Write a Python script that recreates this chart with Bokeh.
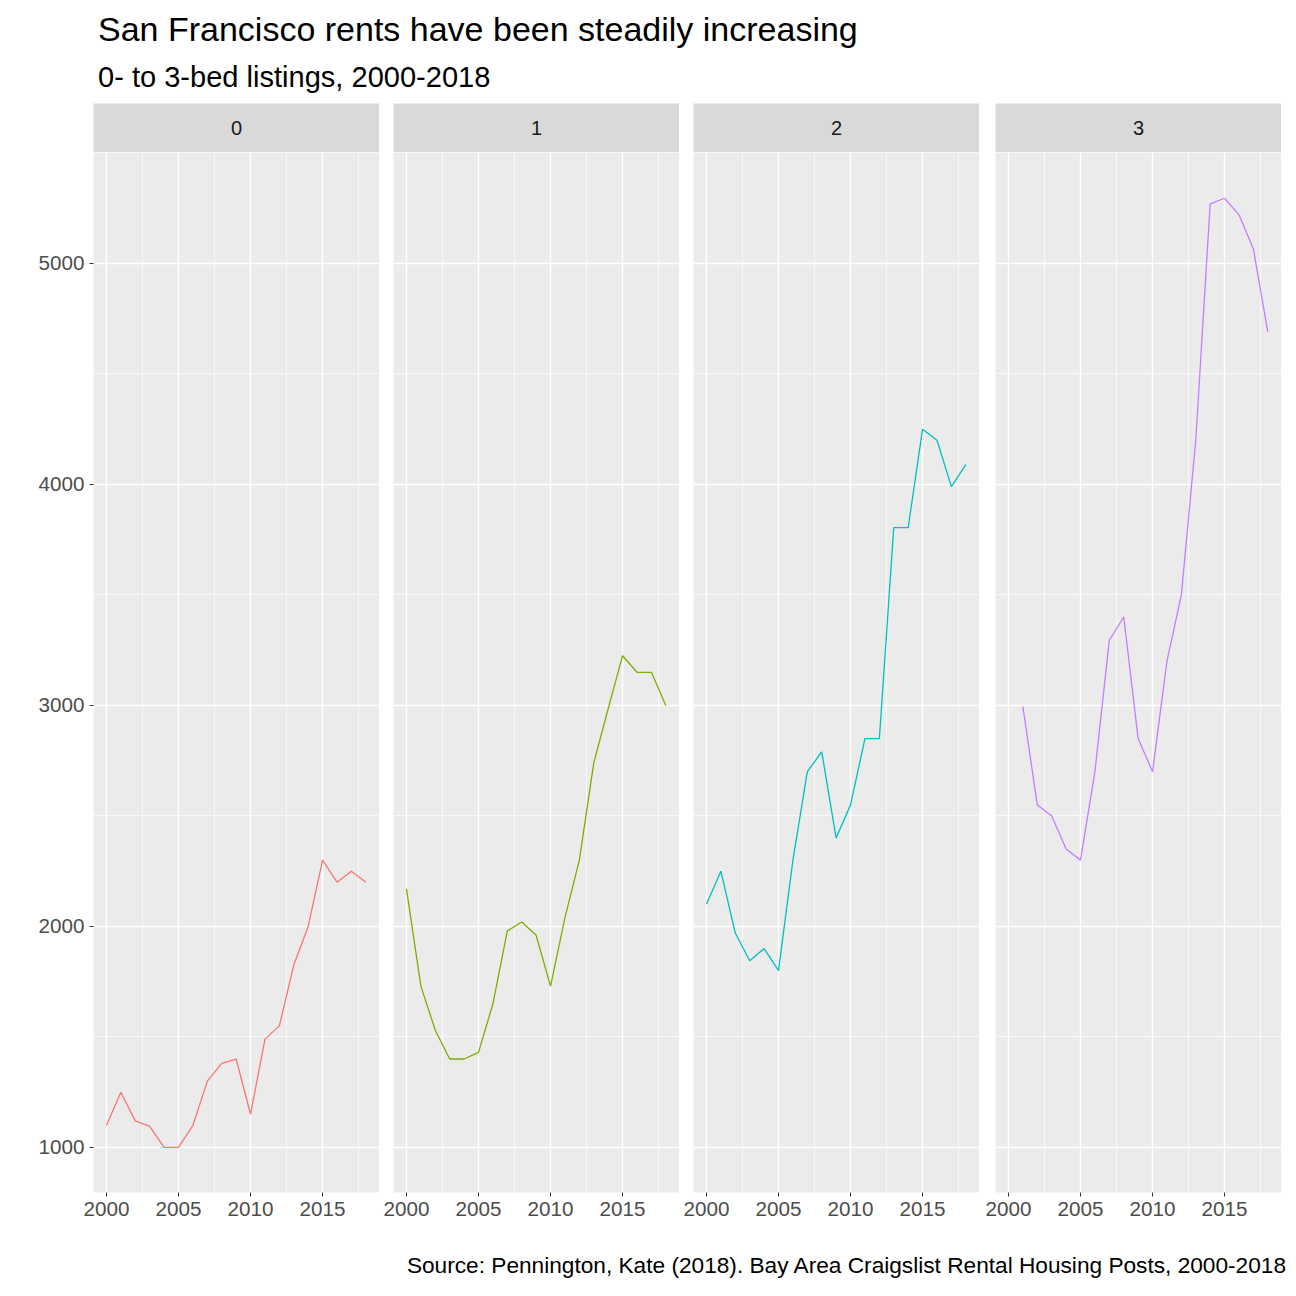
from bokeh.plotting import figure
from bokeh.layouts import column, row
from bokeh.models import Div, Range1d, FixedTicker, Label
from bokeh.embed import file_html
from bokeh.resources import INLINE

years = list(range(2000, 2019))
beds = ["0", "1", "2", "3"]
rent0 = [1100, 1250, 1120, 1095, 1000, 1000, 1100, 1300, 1380, 1400, 1150, 1490, 1550, 1825, 2000, 2300, 2200, 2250, 2200]
rent1 = [2170, 1730, 1530, 1400, 1400, 1430, 1650, 1980, 2020, 1960, 1730, 2040, 2300, 2740, 2985, 3225, 3150, 3150, 3000]
rent2 = [2100, 2250, 1970, 1845, 1900, 1800, 2300, 2700, 2790, 2400, 2550, 2850, 2850, 3805, 3805, 4250, 4200, 3990, 4090]
years3 = list(range(2001, 2019))
rent3 = [2995, 2550, 2500, 2350, 2300, 2700, 3295, 3400, 2850, 2700, 3200, 3500, 4200, 5270, 5295, 5220, 5065, 4690]
series = [(years, rent0), (years, rent1), (years, rent2), (years3, rent3)]
colors = ["#F8766D", "#7CAE00", "#00BFC4", "#C77CFF"]

FONT = "Arial"
panel_w = 286
gaps = [93, 14, 14, 16]
strips, panels = [], []
for i in range(4):
    lb = gaps[i]
    s = figure(width=lb + panel_w, height=49, toolbar_location=None, output_backend="svg",
               x_range=(0, 1), y_range=(0, 1), min_border_left=lb, min_border_right=0,
               min_border_top=0, min_border_bottom=0)
    s.axis.visible = False
    s.grid.visible = False
    s.outline_line_color = None
    s.background_fill_color = "#D9D9D9"
    s.add_layout(Label(x=0.5, y=0.5, text=beds[i], text_align="center", text_baseline="middle",
                       text_font=FONT, text_font_size="15pt", text_color="#1A1A1A"))
    strips.append(s)

    p = figure(width=lb + panel_w, height=1040 + 42, toolbar_location=None, output_backend="svg",
               x_range=Range1d(1999.1, 2018.95), y_range=Range1d(796, 5502),
               min_border_left=lb, min_border_right=0, min_border_top=0, min_border_bottom=42)
    p.background_fill_color = "#EBEBEB"
    p.outline_line_color = None
    p.xaxis.ticker = FixedTicker(ticks=[2000, 2005, 2010, 2015], minor_ticks=[2002.5, 2007.5, 2012.5, 2017.5])
    p.yaxis.ticker = FixedTicker(ticks=[1000, 2000, 3000, 4000, 5000], minor_ticks=[1500, 2500, 3500, 4500, 5500])
    for g in (p.xgrid, p.ygrid):
        g.grid_line_color = "white"
        g.grid_line_width = 1.4
        g.minor_grid_line_color = "white"
        g.minor_grid_line_width = 0.7
    for ax in (p.xaxis, p.yaxis):
        ax.axis_line_color = None
        ax.major_tick_line_color = "#333333"
        ax.major_tick_in = 0
        ax.major_tick_out = 4
        ax.minor_tick_line_color = None
        ax.major_label_text_font = FONT
        ax.major_label_text_font_size = "15.5pt"
        ax.major_label_text_color = "#4D4D4D"
    if i > 0:
        p.yaxis.visible = False
    xs, ys = series[i]
    p.line(xs, ys, line_color=colors[i], line_width=1.3)
    panels.append(p)

title = Div(text="San Francisco rents have been steadily increasing", width=1281, height=40,
            styles={"font-family": FONT, "font-size": "25.5pt", "color": "black", "padding-left": "93px",
                    "padding-top": "0px", "white-space": "nowrap"})
sub = Div(text="0- to 3-bed listings, 2000-2018", width=1281, height=43,
          styles={"font-family": FONT, "font-size": "21.8pt", "color": "black", "padding-left": "93px",
                  "padding-top": "2px", "white-space": "nowrap"})
cap = Div(text="Source: Pennington, Kate (2018). Bay Area Craigslist Rental Housing Posts, 2000-2018",
          width=1281, height=40,
          styles={"font-family": FONT, "font-size": "17pt", "color": "black", "text-align": "right",
                  "width": "1281px", "padding-top": "10px", "white-space": "nowrap"})

layout = column(title, sub, row(*strips, spacing=0), row(*panels, spacing=0), cap, spacing=0)
open("out.html", "w").write(file_html(layout, INLINE))
